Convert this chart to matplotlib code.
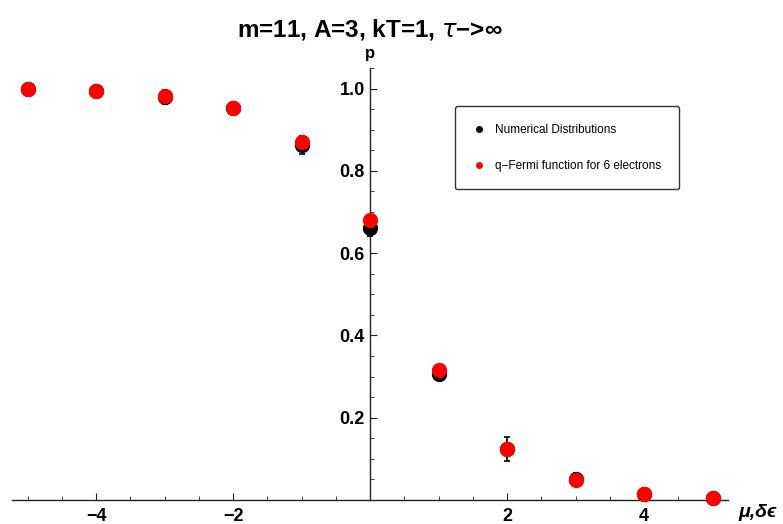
import numpy as np
import matplotlib.pyplot as plt
from matplotlib.ticker import MultipleLocator, FixedLocator

plt.rcParams['font.family'] = ['Liberation Sans', 'DejaVu Sans']

mu = [-5, -4, -3, -2, -1, 0, 1, 2, 3, 4, 5]
p_numerical = [1.0, 0.995, 0.980, 0.953, 0.863, 0.662, 0.307, 0.124, 0.052, 0.015, 0.005]
p_err = [0.003, 0.004, 0.017, 0.004, 0.022, 0.020, 0.006, 0.030, 0.014, 0.004, 0.003]
p_fermi = [1.0, 0.995, 0.983, 0.954, 0.871, 0.680, 0.317, 0.124, 0.049, 0.015, 0.005]

fig = plt.figure(figsize=(7.83, 5.24), dpi=100)
ax = fig.add_axes([0.0153, 0.046, 0.915, 0.824])

ax.errorbar(mu, p_numerical, yerr=p_err, fmt='o', color='black', ms=10,
            capsize=2.5, elinewidth=1.2, capthick=1.2, clip_on=False, zorder=3)
ax.plot(mu, p_fermi, 'o', color='#ff0000', ms=10, clip_on=False, zorder=4)

ax.set_xlim(-5.23, 5.23)
ax.set_ylim(0, 1.05)

ax.spines['left'].set_position(('data', 0))
ax.spines['bottom'].set_position(('data', 0))
ax.spines['right'].set_visible(False)
ax.spines['top'].set_visible(False)
for s in ['left', 'bottom']:
    ax.spines[s].set_color('#222222')
    ax.spines[s].set_linewidth(1.0)

ax.xaxis.set_major_locator(FixedLocator([-4, -2, 2, 4]))
ax.xaxis.set_minor_locator(MultipleLocator(0.5))
ax.yaxis.set_major_locator(FixedLocator([0.2, 0.4, 0.6, 0.8, 1.0]))
ax.yaxis.set_minor_locator(MultipleLocator(0.05))
ax.set_yticklabels(['0.2', '0.4', '0.6', '0.8', '1.0'])
ax.set_xticklabels(['\u22124', '\u22122', '2', '4'])

ax.tick_params(axis='both', which='both', direction='in', color='#222222')
ax.tick_params(axis='x', which='major', length=5, pad=6)
ax.tick_params(axis='y', which='major', length=5, pad=4)
ax.tick_params(which='minor', length=3)
for lbl in ax.get_xticklabels() + ax.get_yticklabels():
    lbl.set_fontweight('bold')
    lbl.set_fontsize(13)

# title sits centred over the y axis, like the original
ax.text(0, 1.145, 'm=11, A=3, kT=1, $\\tau$\u2212>\u221e', ha='center', va='center',
        fontsize=17.5, fontweight='bold', clip_on=False)
ax.text(0, 1.085, 'p', ha='center', va='center',
        fontsize=12, fontweight='bold', clip_on=False)
ax.text(5.37, -0.03, '\u03bc,\u03b4\u03f5', ha='left', va='center', fontsize=14,
        fontweight='bold', fontstyle='italic', clip_on=False)

leg = ax.legend([plt.Line2D([], [], ls='', marker='o', color='black', ms=4),
                 plt.Line2D([], [], ls='', marker='o', color='#ff0000', ms=4)],
                ['Numerical Distributions', 'q\u2212Fermi function for 6 electrons'],
                loc='upper left', bbox_to_anchor=(0.61, 0.925), fontsize=8.5,
                frameon=True, fancybox=True, handletextpad=0.9, labelspacing=2.0,
                borderpad=1.5, handlelength=1.0)
leg.get_frame().set_edgecolor('black')
leg.get_frame().set_linewidth(1.0)

fig.savefig('out.png', dpi=100)
